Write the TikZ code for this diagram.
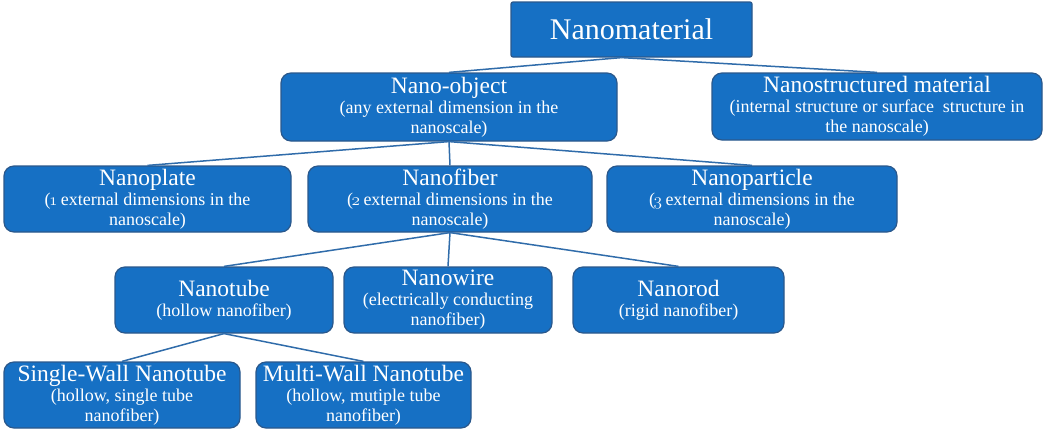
\documentclass[tikz,border=0pt]{standalone}
\usepackage{fontspec}
\setmainfont{Liberation Serif}
\definecolor{boxfill}{RGB}{22,112,196}
\definecolor{boxline}{RGB}{42,88,140}
\definecolor{conn}{RGB}{48,108,170}
\newcommand{\ttl}[1]{{\fontsize{23.5}{22}\selectfont #1}}
\newcommand{\osn}[1]{\kern-1.5pt{\usefont{OML}{cmm}{m}{it}#1}\kern-1pt\relax}
\begin{document}
\begin{tikzpicture}[x=1pt,y=-1pt,
  box/.style={draw=boxline, line width=1.2pt, fill=boxfill, rounded corners=10pt,
    text=white, align=center, inner sep=0pt, minimum height=66pt,
    font=\fontsize{18}{20}\selectfont},
  topbox/.style={box, rounded corners=2pt, minimum height=55pt, minimum width=241pt,
    font=\fontsize{30}{30}\selectfont},
  link/.style={draw=conn, line width=1.5pt}]
\useasboundingbox (0,0) rectangle (1050,431);
\node[topbox] (nm) at (631.5,29.5) {Nanomaterial};
\coordinate (nmb) at ([xshift=-10pt]nm.south);
\node[box, minimum width=336pt, minimum height=68pt] (no) at (449,107) {\ttl{Nano-object}\\(any external dimension in the\\nanoscale)};
\node[box, minimum width=330pt, minimum height=67pt] (ns) at (877,106.5) {\ttl{Nanostructured material}\\(internal structure or surface\ \ structure in\\the nanoscale)};
\node[box, minimum width=287pt] (np) at (147.5,199) {\ttl{Nanoplate}\\(\osn{1} external dimensions in the\\nanoscale)};
\node[box, minimum width=284pt] (nf) at (450,199) {\ttl{Nanofiber}\\(\osn{2} external dimensions in the\\nanoscale)};
\node[box, minimum width=290pt] (npa) at (752,199) {\ttl{Nanoparticle}\\(\osn{3} external dimensions in the\\nanoscale)};
\node[box, minimum width=218pt] (nt) at (224,300) {\ttl{Nanotube}\\(hollow nanofiber)};
\node[box, minimum width=208pt] (nw) at (448,300) {\ttl{Nanowire}\\(electrically conducting\\nanofiber)};
\node[box, minimum width=211pt] (nr) at (678.5,300) {\ttl{Nanorod}\\(rigid nanofiber)};
\node[box, minimum width=236pt] (sw) at (122,395) {\ttl{Single-Wall Nanotube}\\(hollow,\ single tube\\nanofiber)};
\node[box, minimum width=215pt] (mw) at (363.5,395) {\ttl{Multi-Wall Nanotube}\\(hollow,\ mutiple tube\\nanofiber)};
\draw[link] (nmb) -- (no.north);
\draw[link] (nmb) -- (ns.north);
\draw[link] (no.south) -- (np.north);
\draw[link] (no.south) -- (nf.north);
\draw[link] (no.south) -- (npa.north);
\draw[link] (nf.south) -- (nt.north);
\draw[link] (nf.south) -- (nw.north);
\draw[link] (nf.south) -- (nr.north);
\draw[link] (nt.south) -- (sw.north);
\draw[link] (nt.south) -- (mw.north);
\end{tikzpicture}
\end{document}
